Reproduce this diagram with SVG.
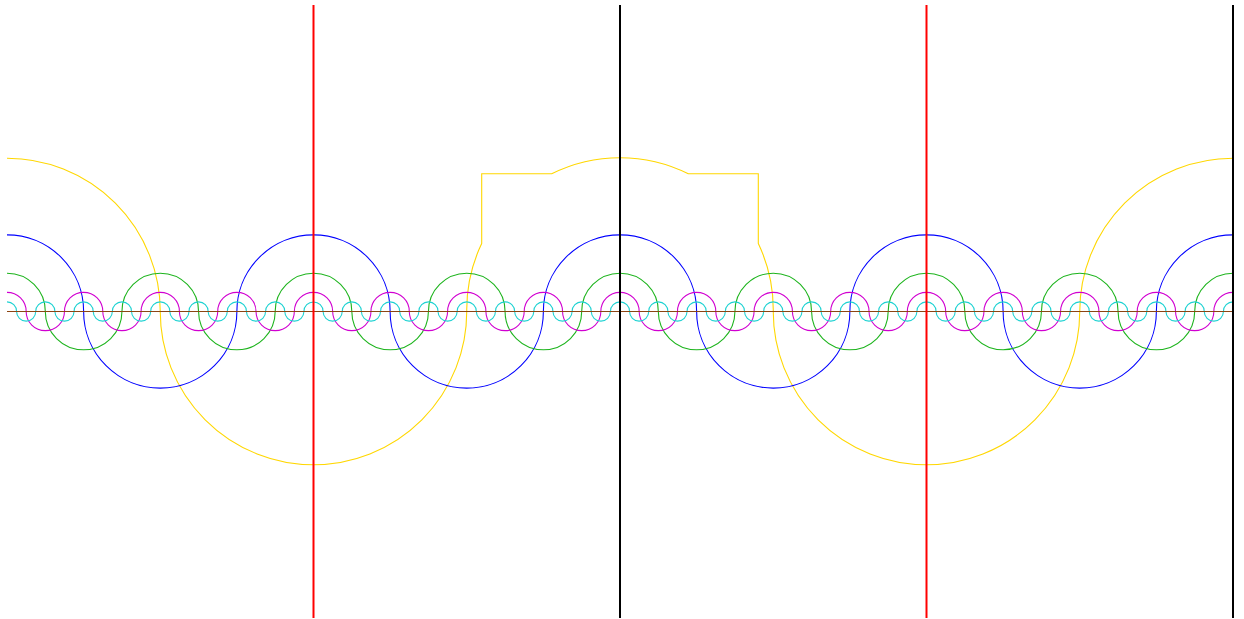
<svg xmlns="http://www.w3.org/2000/svg" width="1244" height="619" viewBox="0 0 1244 619">
<style>
.c{fill:none;stroke-width:1.1}
.y{stroke:#ffd700}.b{stroke:#0000ff}.g{stroke:#1db41d}.m{stroke:#d100d1}.cy{stroke:#1ed2d2}
.ax{stroke:#8b4513;stroke-width:1}
.vr{stroke:#ff0000;stroke-width:2}.vk{stroke:#000000;stroke-width:2}
</style>
<defs>
<clipPath id="plot"><rect x="7" y="0" width="1226" height="619"/></clipPath>
</defs>
<g id="curves" clip-path="url(#plot)" transform="translate(0 0.5)">
<g id="yellow"><path class="c y" d="M -146.25 311 A 153.25 153.25 0 0 1 160.25 311 A 153.25 153.25 0 0 0 466.75 311 A 153.25 153.25 0 0 1 481.7 243 L 481.7 173.3 L 551.7 173.3 A 153.25 153.25 0 0 1 688.3 173.3 L 758.3 173.3 L 758.3 243 A 153.25 153.25 0 0 1 773.25 311 A 153.25 153.25 0 0 0 1079.75 311 A 153.25 153.25 0 0 1 1386.25 311"/></g>
<g id="blue"><path class="c b" d="M -69.625 311 a76.625 76.625 0 0 1 153.25 0 a76.625 76.625 0 0 0 153.25 0 a76.625 76.625 0 0 1 153.25 0 a76.625 76.625 0 0 0 153.25 0 a76.625 76.625 0 0 1 153.25 0 a76.625 76.625 0 0 0 153.25 0 a76.625 76.625 0 0 1 153.25 0 a76.625 76.625 0 0 0 153.25 0 a76.625 76.625 0 0 1 153.25 0"/></g>
<g id="green"><path class="c g" d="M -31.3125 311 a38.3125 38.3125 0 0 1 76.625 0 a38.3125 38.3125 0 0 0 76.625 0 a38.3125 38.3125 0 0 1 76.625 0 a38.3125 38.3125 0 0 0 76.625 0 a38.3125 38.3125 0 0 1 76.625 0 a38.3125 38.3125 0 0 0 76.625 0 a38.3125 38.3125 0 0 1 76.625 0 a38.3125 38.3125 0 0 0 76.625 0 a38.3125 38.3125 0 0 1 76.625 0 a38.3125 38.3125 0 0 0 76.625 0 a38.3125 38.3125 0 0 1 76.625 0 a38.3125 38.3125 0 0 0 76.625 0 a38.3125 38.3125 0 0 1 76.625 0 a38.3125 38.3125 0 0 0 76.625 0 a38.3125 38.3125 0 0 1 76.625 0 a38.3125 38.3125 0 0 0 76.625 0 a38.3125 38.3125 0 0 1 76.625 0"/></g>
<g id="magenta"><path class="c m" d="M -12.15625 311 a19.15625 19.15625 0 0 1 38.3125 0 a19.15625 19.15625 0 0 0 38.3125 0 a19.15625 19.15625 0 0 1 38.3125 0 a19.15625 19.15625 0 0 0 38.3125 0 a19.15625 19.15625 0 0 1 38.3125 0 a19.15625 19.15625 0 0 0 38.3125 0 a19.15625 19.15625 0 0 1 38.3125 0 a19.15625 19.15625 0 0 0 38.3125 0 a19.15625 19.15625 0 0 1 38.3125 0 a19.15625 19.15625 0 0 0 38.3125 0 a19.15625 19.15625 0 0 1 38.3125 0 a19.15625 19.15625 0 0 0 38.3125 0 a19.15625 19.15625 0 0 1 38.3125 0 a19.15625 19.15625 0 0 0 38.3125 0 a19.15625 19.15625 0 0 1 38.3125 0 a19.15625 19.15625 0 0 0 38.3125 0 a19.15625 19.15625 0 0 1 38.3125 0 a19.15625 19.15625 0 0 0 38.3125 0 a19.15625 19.15625 0 0 1 38.3125 0 a19.15625 19.15625 0 0 0 38.3125 0 a19.15625 19.15625 0 0 1 38.3125 0 a19.15625 19.15625 0 0 0 38.3125 0 a19.15625 19.15625 0 0 1 38.3125 0 a19.15625 19.15625 0 0 0 38.3125 0 a19.15625 19.15625 0 0 1 38.3125 0 a19.15625 19.15625 0 0 0 38.3125 0 a19.15625 19.15625 0 0 1 38.3125 0 a19.15625 19.15625 0 0 0 38.3125 0 a19.15625 19.15625 0 0 1 38.3125 0 a19.15625 19.15625 0 0 0 38.3125 0 a19.15625 19.15625 0 0 1 38.3125 0 a19.15625 19.15625 0 0 0 38.3125 0 a19.15625 19.15625 0 0 1 38.3125 0"/></g>
<g id="cyan"><path class="c cy" d="M -2.578125 311 a9.578125 9.578125 0 0 1 19.15625 0 a9.578125 9.578125 0 0 0 19.15625 0 a9.578125 9.578125 0 0 1 19.15625 0 a9.578125 9.578125 0 0 0 19.15625 0 a9.578125 9.578125 0 0 1 19.15625 0 a9.578125 9.578125 0 0 0 19.15625 0 a9.578125 9.578125 0 0 1 19.15625 0 a9.578125 9.578125 0 0 0 19.15625 0 a9.578125 9.578125 0 0 1 19.15625 0 a9.578125 9.578125 0 0 0 19.15625 0 a9.578125 9.578125 0 0 1 19.15625 0 a9.578125 9.578125 0 0 0 19.15625 0 a9.578125 9.578125 0 0 1 19.15625 0 a9.578125 9.578125 0 0 0 19.15625 0 a9.578125 9.578125 0 0 1 19.15625 0 a9.578125 9.578125 0 0 0 19.15625 0 a9.578125 9.578125 0 0 1 19.15625 0 a9.578125 9.578125 0 0 0 19.15625 0 a9.578125 9.578125 0 0 1 19.15625 0 a9.578125 9.578125 0 0 0 19.15625 0 a9.578125 9.578125 0 0 1 19.15625 0 a9.578125 9.578125 0 0 0 19.15625 0 a9.578125 9.578125 0 0 1 19.15625 0 a9.578125 9.578125 0 0 0 19.15625 0 a9.578125 9.578125 0 0 1 19.15625 0 a9.578125 9.578125 0 0 0 19.15625 0 a9.578125 9.578125 0 0 1 19.15625 0 a9.578125 9.578125 0 0 0 19.15625 0 a9.578125 9.578125 0 0 1 19.15625 0 a9.578125 9.578125 0 0 0 19.15625 0 a9.578125 9.578125 0 0 1 19.15625 0 a9.578125 9.578125 0 0 0 19.15625 0 a9.578125 9.578125 0 0 1 19.15625 0 a9.578125 9.578125 0 0 0 19.15625 0 a9.578125 9.578125 0 0 1 19.15625 0 a9.578125 9.578125 0 0 0 19.15625 0 a9.578125 9.578125 0 0 1 19.15625 0 a9.578125 9.578125 0 0 0 19.15625 0 a9.578125 9.578125 0 0 1 19.15625 0 a9.578125 9.578125 0 0 0 19.15625 0 a9.578125 9.578125 0 0 1 19.15625 0 a9.578125 9.578125 0 0 0 19.15625 0 a9.578125 9.578125 0 0 1 19.15625 0 a9.578125 9.578125 0 0 0 19.15625 0 a9.578125 9.578125 0 0 1 19.15625 0 a9.578125 9.578125 0 0 0 19.15625 0 a9.578125 9.578125 0 0 1 19.15625 0 a9.578125 9.578125 0 0 0 19.15625 0 a9.578125 9.578125 0 0 1 19.15625 0 a9.578125 9.578125 0 0 0 19.15625 0 a9.578125 9.578125 0 0 1 19.15625 0 a9.578125 9.578125 0 0 0 19.15625 0 a9.578125 9.578125 0 0 1 19.15625 0 a9.578125 9.578125 0 0 0 19.15625 0 a9.578125 9.578125 0 0 1 19.15625 0 a9.578125 9.578125 0 0 0 19.15625 0 a9.578125 9.578125 0 0 1 19.15625 0 a9.578125 9.578125 0 0 0 19.15625 0 a9.578125 9.578125 0 0 1 19.15625 0 a9.578125 9.578125 0 0 0 19.15625 0 a9.578125 9.578125 0 0 1 19.15625 0 a9.578125 9.578125 0 0 0 19.15625 0 a9.578125 9.578125 0 0 1 19.15625 0 a9.578125 9.578125 0 0 0 19.15625 0 a9.578125 9.578125 0 0 1 19.15625 0"/></g>
</g>
<g id="axis"><line class="ax" x1="7" y1="311.5" x2="1233" y2="311.5"/></g>
<g id="verticals">
<line class="vr" x1="313.5" y1="5" x2="313.5" y2="618"/>
<line class="vk" x1="620" y1="5" x2="620" y2="618"/>
<line class="vr" x1="926.5" y1="5" x2="926.5" y2="618"/>
<line class="vk" x1="1233" y1="5" x2="1233" y2="618"/>
</g>
</svg>
